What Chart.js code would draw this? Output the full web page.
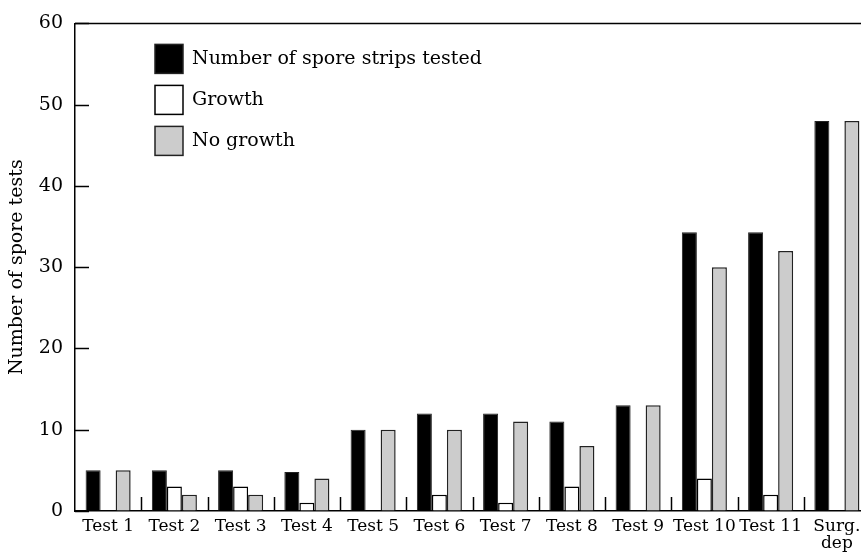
<!DOCTYPE html>
<html>
<head>
<meta charset="utf-8">
<script src="https://cdn.jsdelivr.net/npm/chart.js@4"></script>
<style>
  html, body { margin: 0; padding: 0; background: #fff; overflow: hidden; }
  #wrap { position: relative; width: 900px; height: 552px; }
</style>
</head>
<body>
<div id="wrap"><canvas id="chart"></canvas></div>
<script>
// Categories and series
const categories = ["Test 1", "Test 2", "Test 3", "Test 4", "Test 5", "Test 6",
  "Test 7", "Test 8", "Test 9", "Test 10", "Test 11", ["Surg.", "dep"]];
const tested = [5, 5, 5, 4.8, 10, 12, 12, 11, 13, 34.3, 34.3, 48];
const growth = [0, 3, 3, 1, 0, 2, 1, 3, 0, 4, 2, 0];
const noGrowth = [5, 2, 2, 4, 10, 10, 11, 8, 13, 30, 32, 48];
const yTicks = [0, 10, 20, 30, 40, 50, 60];

const FONT = "DejaVu Serif";

// inward ticks, category separators, top rule and the boxed legend
const decorations = {
  id: "decorations",
  afterDraw(chart) {
    const ctx = chart.ctx;
    const area = chart.chartArea;
    const x = chart.scales.x;
    const y = chart.scales.y;
    ctx.save();
    ctx.strokeStyle = "#000";
    ctx.lineWidth = 1.5;

    // top rule
    ctx.beginPath();
    ctx.moveTo(area.left, area.top);
    ctx.lineTo(chart.width, area.top);
    ctx.stroke();

    // y ticks pointing into the plot
    yTicks.forEach(v => {
      const py = Math.round(y.getPixelForValue(v)) + 0.5;
      ctx.beginPath();
      ctx.moveTo(area.left, py);
      ctx.lineTo(area.left + 14, py);
      ctx.stroke();
    });

    // short separators between categories
    for (let i = 1; i < categories.length; i++) {
      const px = (x.getPixelForValue(i - 1) + x.getPixelForValue(i)) / 2;
      ctx.beginPath();
      ctx.moveTo(Math.round(px) + 0.5, area.bottom);
      ctx.lineTo(Math.round(px) + 0.5, area.bottom - 14);
      ctx.stroke();
    }

    // legend
    ctx.font = "19px '" + FONT + "'";
    ctx.textBaseline = "middle";
    chart.data.datasets.forEach((ds, i) => {
      const bx = area.left + 80;
      const by = area.top + 21 + i * 41;
      ctx.fillStyle = ds.backgroundColor;
      ctx.fillRect(bx, by, 28, 29);
      ctx.strokeStyle = ds.borderColor;
      ctx.lineWidth = 1.5;
      ctx.strokeRect(bx, by, 28, 29);
      ctx.fillStyle = "#000";
      ctx.fillText(ds.label, bx + 37, by + 15);
    });
    ctx.restore();
  }
};

new Chart(document.getElementById("chart"), {
  type: "bar",
  data: {
    labels: categories,
    datasets: [
      { label: "Number of spore strips tested", data: tested,
        backgroundColor: "#000", borderColor: "#222", borderWidth: 1 },
      { label: "Growth", data: growth,
        backgroundColor: "#fff", borderColor: "#000", borderWidth: 1.5 },
      { label: "No growth", data: noGrowth,
        backgroundColor: "#cccccc", borderColor: "#222", borderWidth: 1.5 }
    ]
  },
  options: {
    responsive: true,
    maintainAspectRatio: false,
    animation: false,
    layout: { padding: { top: 23, right: 30, bottom: 0, left: 0 } },
    datasets: { bar: { barPercentage: 1, categoryPercentage: 0.68 } },
    plugins: { legend: { display: false }, tooltip: { enabled: false } },
    scales: {
      x: {
        grid: { drawOnChartArea: false, drawTicks: false },
        border: { color: "#000", width: 1.5 },
        ticks: { color: "#000", padding: 8, maxRotation: 0, autoSkip: false,
          font: { family: FONT, size: 17, lineHeight: 0.95 } },
        afterFit: s => { s.height = 41; }
      },
      y: {
        min: 0, max: 60,
        grid: { drawOnChartArea: false, drawTicks: false },
        border: { color: "#000", width: 1.5 },
        ticks: { stepSize: 10, color: "#000", padding: 12,
          font: { family: FONT, size: 19 } },
        title: { display: true, text: "Number of spore tests", color: "#000",
          font: { family: FONT, size: 19 }, padding: { top: 6, bottom: 0 } },
        afterFit: s => { s.width = 75; }
      }
    }
  },
  plugins: [decorations]
});
</script>
</body>
</html>
